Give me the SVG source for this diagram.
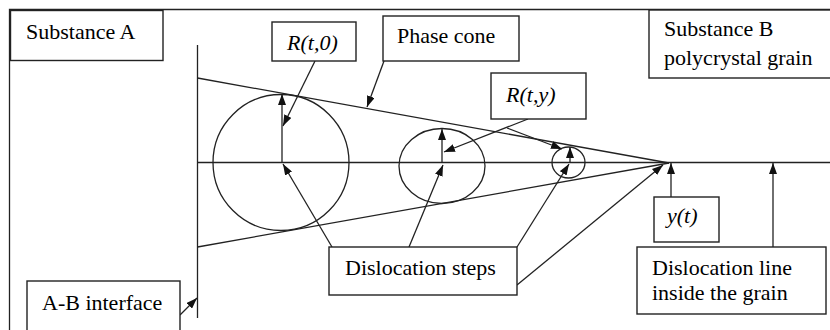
<svg xmlns="http://www.w3.org/2000/svg" width="830" height="330" viewBox="0 0 830 330">
  <style>
    .box { fill: #fff; stroke: #222; stroke-width: 1.4; }
    .ln { fill: none; stroke: #222; stroke-width: 1.3; }
    .arr { fill: none; stroke: #222; stroke-width: 1.3; marker-end: url(#ah); }
  </style>
  <defs>
    <marker id="ah" markerUnits="userSpaceOnUse" markerWidth="11" markerHeight="8" refX="11" refY="4" orient="auto">
      <path d="M0,0 L11,4 L0,8 z" fill="#111"/>
    </marker>
  </defs>
  <rect width="830" height="330" fill="#fff"/>

  <g id="frame">
    <path class="ln" d="M9.5,330 L9.5,9.5 L830,9.5"/>
  </g>

  <g id="geometry">
    <line class="ln" x1="197.5" y1="45" x2="197.5" y2="318"/>
    <line class="ln" x1="197.5" y1="162.5" x2="830" y2="162.5"/>
    <line class="ln" x1="197.5" y1="78" x2="669" y2="163"/>
    <line class="ln" x1="197.5" y1="247" x2="669" y2="163"/>
    <circle class="ln" cx="281" cy="162.5" r="68"/>
    <ellipse class="ln" cx="442" cy="166" rx="43" ry="37.5"/>
    <ellipse class="ln" cx="568.5" cy="162.5" rx="16.5" ry="15.5"/>
  </g>

  <g id="connectors">
    <line class="arr" x1="282" y1="163" x2="282" y2="94"/>
    <line class="arr" x1="442" y1="163" x2="442" y2="129"/>
    <line class="arr" x1="570" y1="163" x2="570" y2="147"/>
    <line class="arr" x1="315" y1="61" x2="283" y2="126"/>
    <line class="arr" x1="384" y1="61" x2="367" y2="107"/>
    <line class="arr" x1="528" y1="119" x2="444" y2="152"/>
    <line class="arr" x1="507" y1="128" x2="562" y2="149"/>
    <line class="arr" x1="332" y1="247" x2="283" y2="164"/>
    <line class="arr" x1="409" y1="247" x2="443" y2="165"/>
    <line class="arr" x1="517" y1="247" x2="569" y2="164"/>
    <line class="arr" x1="517" y1="285" x2="663" y2="165"/>
    <line class="arr" x1="671" y1="197" x2="671" y2="163"/>
    <line class="arr" x1="773" y1="247" x2="773" y2="163"/>
    <line class="arr" x1="180" y1="315" x2="197" y2="298"/>
  </g>

  <g id="substance-a">
    <rect class="box" x="10.5" y="10.5" width="152.5" height="50"/>
    <text x="26" y="39" font-family="Liberation Serif" font-size="22">Substance A</text>
  </g>

  <g id="r-t-0">
    <rect class="box" x="272" y="22" width="84" height="39"/>
    <text x="287" y="50" font-family="Liberation Serif" font-size="22" font-style="italic">R(t,0)</text>
  </g>

  <g id="phase-cone">
    <rect class="box" x="383" y="16" width="136" height="45"/>
    <text x="397" y="43" font-family="Liberation Serif" font-size="22">Phase cone</text>
  </g>

  <g id="r-t-y">
    <rect class="box" x="491" y="73" width="95" height="46"/>
    <text x="506" y="102" font-family="Liberation Serif" font-size="22" font-style="italic">R(t,y)</text>
  </g>

  <g id="substance-b">
    <rect class="box" x="649" y="10" width="190" height="68"/>
    <text x="664" y="36" font-family="Liberation Serif" font-size="22">Substance B</text>
    <text x="664" y="65" font-family="Liberation Serif" font-size="22">polycrystal grain</text>
  </g>

  <g id="y-t">
    <rect class="box" x="654" y="197" width="65" height="45"/>
    <text x="667" y="223" font-family="Liberation Serif" font-size="22" font-style="italic">y(t)</text>
  </g>

  <g id="dislocation-steps">
    <rect class="box" x="329" y="247" width="188" height="48"/>
    <text x="345" y="275" font-family="Liberation Serif" font-size="22">Dislocation steps</text>
  </g>

  <g id="dislocation-line">
    <rect class="box" x="637" y="247" width="189" height="67"/>
    <text x="652" y="275" font-family="Liberation Serif" font-size="22">Dislocation line</text>
    <text x="652" y="300" font-family="Liberation Serif" font-size="22">inside the grain</text>
  </g>

  <g id="ab-interface">
    <rect class="box" x="27" y="281" width="153" height="60"/>
    <text x="42" y="310" font-family="Liberation Serif" font-size="22">A-B interface</text>
  </g>
</svg>
